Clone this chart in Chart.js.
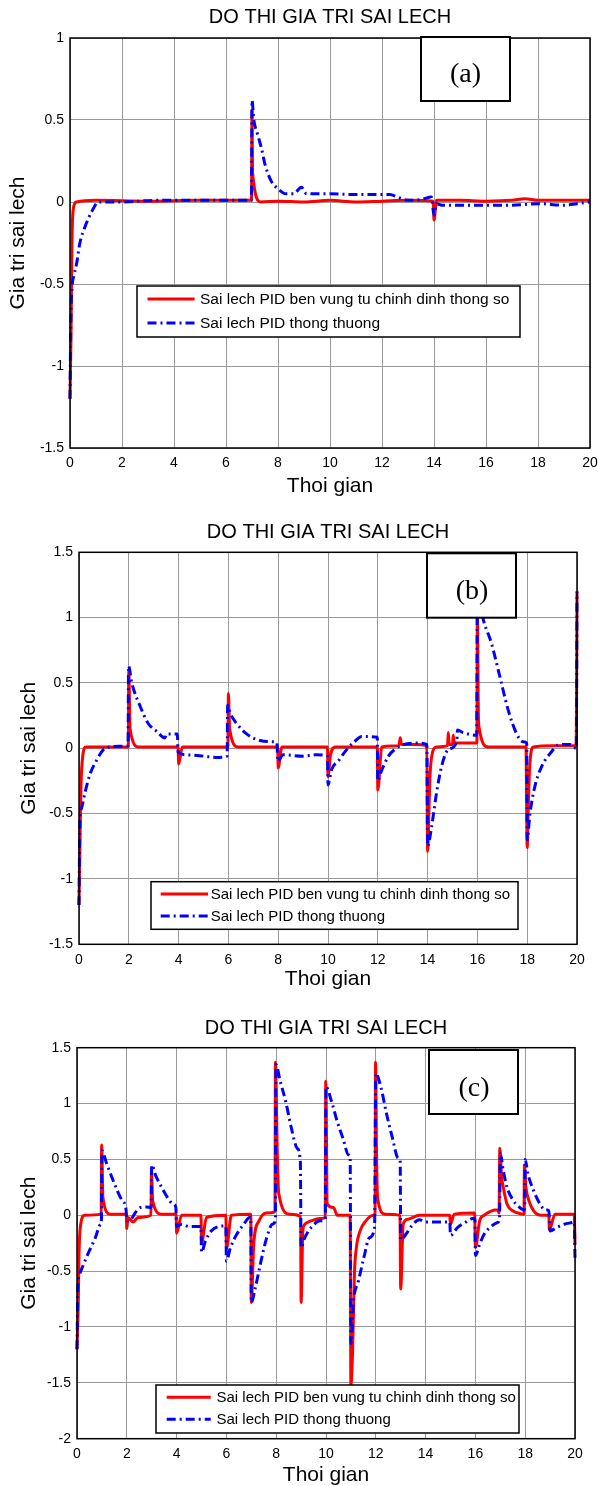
<!DOCTYPE html>
<html>
<head>
<meta charset="utf-8">
<script src="https://cdn.jsdelivr.net/npm/chart.js@4.4.1/dist/chart.umd.min.js"></script>
<style>
  html, body { margin: 0; padding: 0; background: #fff; }
  body { width: 598px; height: 1486px; position: relative; overflow: hidden; }
  .panel { position: absolute; left: 0; width: 598px; }
  canvas { display: block; }
</style>
</head>
<body>
<div class="panel" style="top:0px"><canvas id="chartA" width="598" height="500"></canvas></div>
<div class="panel" style="top:500px"><canvas id="chartB" width="598" height="495"></canvas></div>
<div class="panel" style="top:995px"><canvas id="chartC" width="598" height="491"></canvas></div>
<script>
// Series labels, shared by all three panels
const seriesNames = ["Sai lech PID ben vung tu chinh dinh thong so", "Sai lech PID thong thuong"];
const xTicks = [0, 2, 4, 6, 8, 10, 12, 14, 16, 18, 20];

// Panel (a): [time, error]
const robustA = [[0,-1.2],[0.04,-0.8],[0.07,-0.3],[0.12,-0.05],[0.25,0],[1,0.01],[3,0.005],[5,0.01],[6.98,0.01],
  [7.0,0.56],[7.02,0.18],[7.34,0],[8,0.005],[9,0],[10,0.01],[11,0],[12,0.005],[13,0.01],[13.97,0.005],
  [14.0,-0.11],[14.1,0.01],[15,0.01],[16,0.005],[17,0.01],[17.5,0.02],[18,0.01],[19,0.01],[20,0.01]];
const pidA = [[0,-1.2],[0.03,-0.75],[0.08,-0.52],[0.15,-0.45],[0.26,-0.37],[0.38,-0.25],[0.58,-0.15],[0.83,-0.06],
  [1.1,0],[2,0],[3.3,0.01],[5,0.01],[6.98,0.01],[7.0,0.62],[7.07,0.5],[7.2,0.42],[7.36,0.33],[7.5,0.23],[7.73,0.13],
  [8.02,0.078],[8.3,0.05],[8.6,0.05],[8.9,0.09],[9.1,0.05],[10,0.05],[11,0.045],[12.3,0.045],[12.6,0.03],[13,0.01],
  [13.5,0.015],[13.9,0.03],[14.0,-0.08],[14.1,-0.01],[14.3,-0.02],[15,-0.02],[16,-0.02],[17,-0.02],[18,-0.01],
  [19,-0.02],[19.5,-0.01],[20,0]];

// Panel (b)
const robustB = [[0,-1.2],[0.04,-0.7],[0.08,-0.29],[0.15,-0.06],[0.28,0.01],[1,0.01],[1.98,0.01],[2.0,0.6],[2.05,0.15],
  [2.4,0.01],[3,0.01],[3.98,0.01],[4.0,-0.12],[4.15,0.01],[5,0.01],[5.98,0.01],[6.0,0.42],[6.05,0.15],[6.4,0.01],
  [7,0.01],[7.98,0.01],[8.0,-0.15],[8.15,0.01],[9,0.01],[9.98,0.01],[10.0,-0.22],[10.1,-0.05],[10.3,0.01],[11,0.01],
  [11.98,0.01],[12.0,-0.32],[12.16,0.01],[12.85,0.02],[12.9,0.08],[12.95,0.03],[13.5,0.03],[13.97,0.02],[14.0,-0.79],
  [14.05,-0.5],[14.1,-0.2],[14.2,-0.03],[14.35,0.01],[14.8,0.02],[14.83,0.12],[14.87,0.03],[15.0,0.03],[15.03,0.1],
  [15.07,0.04],[15.5,0.04],[15.98,0.04],[16.0,1.15],[16.03,0.4],[16.05,0.18],[16.44,0.01],[17,0.01],[17.95,0.01],
  [18.0,-0.76],[18.05,-0.4],[18.11,-0.11],[18.25,0.01],[19,0.02],[19.97,0.02],[20,1.2]];
const pidB = [[0,-1.2],[0.04,-0.55],[0.1,-0.46],[0.24,-0.34],[0.44,-0.2],[0.71,-0.09],[0.98,-0.01],[1.24,0.01],
  [1.6,0.015],[1.97,0.02],[1.99,0.63],[2.12,0.5],[2.46,0.32],[2.78,0.19],[3.12,0.13],[3.45,0.08],[3.52,0.11],
  [3.95,0.11],[3.98,-0.03],[4.3,-0.05],[5,-0.06],[5.5,-0.07],[5.95,-0.06],[5.97,0.33],[6.07,0.27],[6.33,0.19],
  [6.73,0.11],[7.27,0.06],[7.8,0.05],[7.95,0.04],[7.98,-0.1],[8.2,-0.05],[9,-0.06],[9.5,-0.05],[9.98,-0.06],
  [10.0,-0.28],[10.14,-0.165],[10.44,-0.09],[10.75,-0.01],[11.06,0.05],[11.36,0.09],[11.98,0.085],[12.0,-0.25],
  [12.13,-0.18],[12.43,-0.06],[12.74,0],[13.04,0.03],[13.5,0.04],[13.97,0.03],[14.0,-0.75],[14.16,-0.6],
  [14.36,-0.34],[14.56,-0.14],[14.83,-0.01],[15.17,0.05],[15.2,0.14],[15.43,0.12],[15.97,0.1],[16.0,1.2],
  [16.23,0.99],[16.57,0.8],[16.9,0.55],[17.24,0.29],[17.58,0.11],[17.84,0.05],[17.98,0.04],[18.0,-0.7],
  [18.11,-0.5],[18.31,-0.29],[18.58,-0.14],[18.92,-0.04],[19.32,0.03],[19.72,0.03],[19.97,0],[20,1.2]];

// Panel (c)
const robustC = [[0,-1.2],[0.05,-0.8],[0.08,-0.35],[0.15,-0.08],[0.3,0],[0.97,0.01],[0.99,0.63],[1.04,0.16],
  [1.33,0.01],[1.98,0.01],[2.0,-0.12],[2.05,-0.02],[2.25,-0.06],[2.45,-0.02],[2.97,0],[2.99,0.4],[3.04,0.13],
  [3.4,0.01],[3.98,0.01],[4.0,-0.16],[4.2,0],[4.98,0],[5.0,-0.25],[5.2,-0.02],[5.98,0],[6.0,-0.3],[6.2,0],
  [6.98,0.01],[7.0,-0.78],[7.1,-0.25],[7.31,-0.05],[7.6,0.02],[7.95,0.03],[7.97,1.37],[8.04,0.6],[8.1,0.2],
  [8.54,0.01],[8.98,-0.01],[9.0,-0.78],[9.07,-0.14],[9.15,-0.08],[9.46,-0.045],[9.76,-0.03],[9.97,-0.02],
  [9.99,1.2],[10.05,0.1],[10.3,0.07],[10.45,0],[10.97,0],[11.0,-1.52],[11.07,-1.2],[11.14,-0.53],[11.22,-0.29],
  [11.37,-0.14],[11.6,-0.05],[11.9,0],[11.97,0.01],[11.99,1.37],[12.03,0.55],[12.07,0.16],[12.37,0.01],[12.97,0],
  [13.0,-0.66],[13.1,-0.08],[13.29,-0.035],[13.75,0],[14.97,0],[15.0,-0.08],[15.15,0.01],[15.97,0.02],[16.0,-0.29],
  [16.17,-0.05],[16.35,0],[16.9,0.05],[16.95,0.02],[16.98,0.6],[17.05,0.35],[17.12,0.25],[17.27,0.1],[17.5,0.04],
  [17.8,0.015],[17.95,0.01],[17.97,0.45],[18.03,0.25],[18.11,0.16],[18.34,0.04],[18.65,0],[18.95,0],[18.97,-0.13],
  [19.2,0.01],[19.97,0.01],[20,-0.26]];
const pidC = [[0,-1.2],[0.04,-0.62],[0.1,-0.53],[0.26,-0.44],[0.49,-0.32],[0.72,-0.21],[0.95,-0.08],[0.98,-0.05],
  [1.0,0.58],[1.18,0.47],[1.49,0.29],[1.79,0.14],[1.97,0.05],[2.0,-0.05],[2.18,-0.035],[2.33,0.02],[2.56,0.07],
  [2.79,0.075],[2.98,0.07],[3.0,0.45],[3.17,0.35],[3.4,0.25],[3.63,0.16],[3.86,0.1],[3.97,0.07],[4.0,-0.1],
  [4.2,-0.08],[4.5,-0.1],[4.98,-0.1],[5.0,-0.33],[5.16,-0.23],[5.39,-0.14],[5.7,-0.1],[5.98,-0.095],[6.0,-0.41],
  [6.16,-0.29],[6.39,-0.18],[6.7,-0.08],[6.93,-0.02],[6.98,-0.02],[7.0,-0.78],[7.16,-0.65],[7.39,-0.41],[7.62,-0.2],
  [7.85,-0.08],[7.97,-0.04],[7.99,1.35],[8.15,1.21],[8.38,1.02],[8.61,0.78],[8.84,0.6],[8.97,0.48],[9.0,-0.29],
  [9.15,-0.2],[9.46,-0.095],[9.76,-0.05],[9.97,-0.035],[10.0,1.15],[10.22,1.02],[10.45,0.84],[10.68,0.69],
  [10.91,0.54],[10.97,0.53],[11.0,-1.15],[11.11,-0.76],[11.3,-0.59],[11.52,-0.38],[11.75,-0.2],[11.95,-0.11],
  [12.0,1.27],[12.21,1.14],[12.44,0.9],[12.67,0.69],[12.9,0.51],[12.98,0.48],[13.0,-0.22],[13.21,-0.17],
  [13.44,-0.095],[13.75,-0.04],[14.0,-0.06],[14.5,-0.06],[14.97,-0.06],[15.0,-0.18],[15.28,-0.11],[15.59,-0.065],
  [15.89,-0.03],[15.98,-0.03],[16.0,-0.36],[16.17,-0.26],[16.35,-0.17],[16.66,-0.095],[16.89,-0.065],[16.97,-0.03],
  [17.0,0.55],[17.12,0.4],[17.27,0.25],[17.5,0.14],[17.73,0.08],[17.92,0.05],[17.98,0.05],[18.0,0.5],[18.11,0.37],
  [18.34,0.22],[18.57,0.11],[18.8,0.05],[18.95,0.04],[19.0,-0.14],[19.26,-0.11],[19.57,-0.08],[19.88,-0.065],
  [19.97,-0.06],[20,-0.38]];

const SANS = '"Liberation Sans", Arial, sans-serif';
const SERIF = '"Liberation Serif", "Times New Roman", serif';

const toPts = arr => arr.map(([x, y]) => ({ x, y }));

// draws the axes box, the (a)/(b)/(c) tag and the legend box
function makeDecor(p) {
  return {
    id: 'decor',
    afterDraw(chart) {
      const { ctx, chartArea: a } = chart;
      ctx.save();
      ctx.strokeStyle = '#000';
      ctx.lineWidth = 1.5;
      ctx.strokeRect(a.left, a.top, a.right - a.left, a.bottom - a.top);

      const t = p.tag;
      ctx.fillStyle = '#fff';
      ctx.fillRect(t.x, t.y, t.w, t.h);
      ctx.lineWidth = 2;
      ctx.strokeRect(t.x, t.y, t.w, t.h);
      ctx.fillStyle = '#000';
      ctx.font = '28px ' + SERIF;
      ctx.textAlign = 'center';
      ctx.textBaseline = 'middle';
      ctx.fillText(t.text, t.tx, t.ty);

      const L = p.legend;
      ctx.fillStyle = '#fff';
      ctx.fillRect(L.x, L.y, L.w, L.h);
      ctx.lineWidth = 1.5;
      ctx.strokeStyle = '#000';
      ctx.strokeRect(L.x, L.y, L.w, L.h);
      chart.data.datasets.forEach((ds, i) => {
        const y = L.rows[i];
        ctx.strokeStyle = ds.borderColor;
        ctx.lineWidth = ds.borderWidth;
        ctx.setLineDash(ds.borderDash || []);
        ctx.beginPath();
        ctx.moveTo(L.x0, y);
        ctx.lineTo(L.x1, y);
        ctx.stroke();
        ctx.setLineDash([]);
        ctx.fillStyle = '#000';
        ctx.font = L.font + 'px ' + SANS;
        ctx.textAlign = 'left';
        ctx.textBaseline = 'middle';
        ctx.fillText(ds.label, L.tx, y + 1);
      });
      ctx.restore();
    }
  };
}

function buildPanel(id, robust, pid, p) {
  return new Chart(document.getElementById(id), {
    type: 'line',
    data: {
      datasets: [
        { label: seriesNames[0], data: toPts(robust), borderColor: '#ff0000', borderWidth: 3, order: 1, clip: false },
        { label: seriesNames[1], data: toPts(pid), borderColor: '#0000ff', borderWidth: 3,
          borderDash: [9, 4, 2, 4], order: 0, clip: false }
      ]
    },
    options: {
      responsive: false,
      animation: false,
      devicePixelRatio: 1,
      layout: { padding: { left: 0, right: p.padRight, top: 0, bottom: 0 } },
      elements: {
        point: { radius: 0 },
        line: { cubicInterpolationMode: 'monotone', borderCapStyle: 'butt', borderJoinStyle: 'round' }
      },
      plugins: {
        legend: { display: false },
        tooltip: { enabled: false },
        title: {
          display: true, fullSize: false, text: 'DO THI GIA TRI SAI LECH', color: '#000',
          font: { family: SANS, size: 20, weight: 'normal', lineHeight: 1.2 },
          padding: { top: p.titleTop, bottom: p.titleBottom }
        }
      },
      scales: {
        x: {
          type: 'linear', min: 0, max: 20,
          afterBuildTicks: s => { s.ticks = xTicks.map(v => ({ value: v })); },
          ticks: { color: '#000', padding: 7, maxRotation: 0, autoSkip: false, font: { family: SANS, size: 14 } },
          grid: { color: '#9a9a9a', lineWidth: 1, drawTicks: false },
          border: { display: false },
          title: { display: true, text: 'Thoi gian', color: '#000',
            font: { family: SANS, size: 21, lineHeight: 1 }, padding: { top: 0, bottom: p.xTitlePad } },
          afterFit: s => { s.height = p.xHeight; s.paddingLeft = 0; s.paddingRight = 0; }
        },
        y: {
          type: 'linear', min: p.yMin, max: p.yMax,
          ticks: { stepSize: 0.5, color: '#000', padding: 6, font: { family: SANS, size: 14 },
            callback: v => String(Math.round(v * 10) / 10) },
          grid: { color: '#9a9a9a', lineWidth: 1, drawTicks: false },
          border: { display: false },
          title: { display: true, text: 'Gia tri sai lech', color: '#000',
            font: { family: SANS, size: 21, lineHeight: 1 }, padding: { top: p.yTitlePad, bottom: 0 } },
          afterFit: s => { s.width = p.yWidth; s.paddingTop = 0; s.paddingBottom = 0; }
        }
      }
    },
    plugins: [makeDecor(p)]
  });
}

buildPanel('chartA', robustA, pidA, {
  yMin: -1.5, yMax: 1, yWidth: 70, padRight: 8, xHeight: 52,
  titleTop: 5, titleBottom: 9, xTitlePad: 2.8, yTitlePad: 7.5,
  tag: { x: 421, y: 37, w: 89, h: 64, text: '(a)', tx: 465.5, ty: 75 },
  legend: { x: 137, y: 286, w: 383, h: 51, rows: [299, 323], x0: 147.5, x1: 194.6, tx: 200, font: 15.5 }
});
buildPanel('chartB', robustB, pidB, {
  yMin: -1.5, yMax: 1.5, yWidth: 79, padRight: 21, xHeight: 50.7,
  titleTop: 20, titleBottom: 8.3, xTitlePad: 5.5, yTitlePad: 19,
  tag: { x: 427, y: 53.3, w: 89, h: 64.4, text: '(b)', tx: 472, ty: 91.7 },
  legend: { x: 151, y: 381.7, w: 367, h: 47.6, rows: [394, 416], x0: 160.7, x1: 208, tx: 210.7, font: 15 }
});
buildPanel('chartC', robustC, pidC, {
  yMin: -2, yMax: 1.5, yWidth: 77, padRight: 23, xHeight: 47.3,
  titleTop: 21, titleBottom: 7.7, xTitlePad: 0.5, yTitlePad: 18.5,
  tag: { x: 429, y: 55, w: 89, h: 64, text: '(c)', tx: 474, ty: 93.3 },
  legend: { x: 156, y: 390, w: 363, h: 48, rows: [402.3, 424.3], x0: 166.7, x1: 210.7, tx: 216.5, font: 15 }
});
</script>
</body>
</html>
